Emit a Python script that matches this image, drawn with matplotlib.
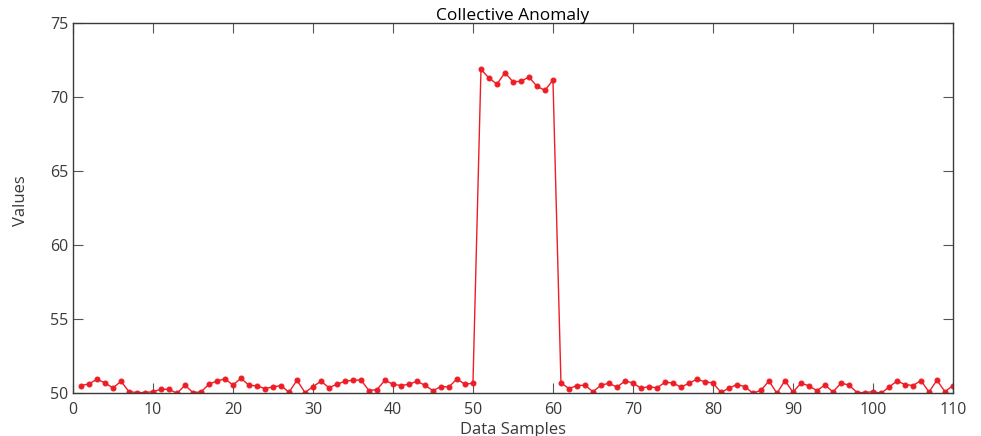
import numpy as np
import matplotlib.pyplot as plt

# sample values
samples = np.arange(1, 111)
normal_start = [50.52, 50.63, 50.95, 50.70, 50.36, 50.81, 50.11, 50.05, 50.05, 50.11,
                50.27, 50.27, 50.00, 50.54, 50.05, 50.09, 50.61, 50.83, 50.97, 50.56,
                51.01, 50.54, 50.50, 50.32, 50.43, 50.52, 50.07, 50.88, 50.05, 50.45,
                50.81, 50.38, 50.61, 50.81, 50.88, 50.90, 50.18, 50.25, 50.88, 50.61,
                50.52, 50.61, 50.81, 50.54, 50.18, 50.45, 50.43, 50.97, 50.61, 50.68]
anomaly = [71.88, 71.29, 70.88, 71.65, 71.04, 71.07, 71.36, 70.73, 70.46, 71.15]
normal_end = [50.70, 50.32, 50.52, 50.54, 50.11, 50.54, 50.68, 50.41, 50.83, 50.70,
              50.34, 50.45, 50.36, 50.74, 50.70, 50.41, 50.68, 50.95, 50.77, 50.70,
              50.07, 50.34, 50.59, 50.45, 50.00, 50.20, 50.83, 50.00, 50.86, 50.07,
              50.68, 50.50, 50.18, 50.56, 50.09, 50.68, 50.56, 50.05, 50.05, 50.11,
              50.00, 50.41, 50.83, 50.59, 50.52, 50.86, 50.09, 50.88, 50.11, 50.52]
values = np.array(normal_start + anomaly + normal_end)

plt.rcParams['font.family'] = ['Open Sans', 'DejaVu Sans']

fig = plt.figure(figsize=(9.81, 4.36), dpi=100)
ax = fig.add_axes([0.0744, 0.098, 0.897, 0.849])

ax.plot(samples, values, color='#ee1c25', lw=1, marker='o', ms=3.5,
        markeredgewidth=0.8)

ax.set_xlim(0, 110)
ax.set_ylim(50, 75)
ax.set_xticks(np.arange(0, 111, 10))
ax.set_yticks(np.arange(50, 76, 5))

for s in ax.spines.values():
    s.set_color('#3a3a3a')
    s.set_linewidth(1.0)
ax.tick_params(direction='in', length=7, width=0.8, color='#555555',
               labelsize=11.5, labelcolor='#3a3a3a', top=True, right=True)
ax.tick_params(axis='x', pad=6)

ax.set_title('Collective Anomaly', fontsize=12.5, pad=2)
ax.set_xlabel('Data Samples', fontsize=12, color='#3a3a3a', labelpad=3)
ax.set_ylabel('Values', fontsize=12, color='#3a3a3a')
ax.yaxis.set_label_coords(-0.05, 0.52)

fig.savefig('out.png', dpi=100)
